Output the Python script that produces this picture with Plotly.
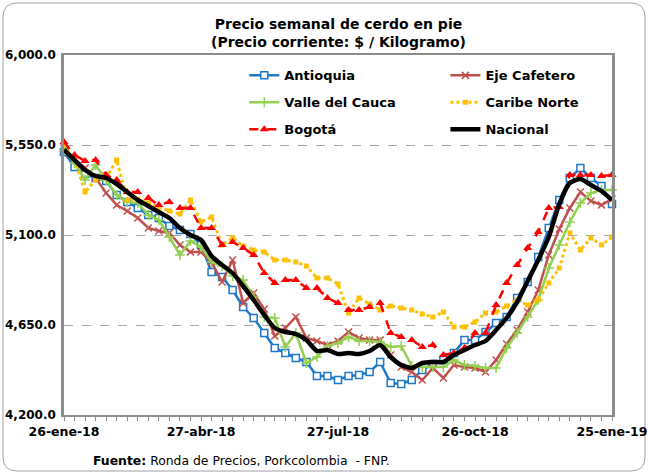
import pandas as pd
import plotly.graph_objects as go

weeks = pd.date_range("2018-01-26", periods=53, freq="7D")

antioquia = [5515, 5440, 5405, 5385, 5370, 5300, 5265, 5235, 5200, 5185, 5145, 5125, 5105, 5050,
             4915, 4890, 4825, 4740, 4685, 4610, 4535, 4510, 4485, 4465, 4395, 4395, 4375, 4395,
             4400, 4415, 4465, 4360, 4355, 4375, 4425, 4455, 4475, 4510, 4575, 4575, 4615, 4660,
             4690, 4785, 4865, 4990, 5135, 5275, 5385, 5435, 5385, 5345, 5255]
eje_cafetero = [5535, 5475, 5435, 5385, 5310, 5250, 5220, 5185, 5135, 5120, 5110, 5050, 5015, 5015,
                4965, 4865, 4975, 4760, 4810, 4730, 4595, 4635, 4690, 4585, 4570, 4550, 4570, 4615,
                4585, 4575, 4575, 4500, 4440, 4415, 4375, 4435, 4385, 4450, 4440, 4435, 4415, 4475,
                4555, 4625, 4715, 4825, 5000, 5130, 5235, 5315, 5270, 5250, 5280]
valle = [5525, 5460, 5375, 5450, 5375, 5300, 5265, 5260, 5200, 5175, 5090, 5000, 5070, 5040,
         4965, 4945, 4895, 4875, 4790, 4690, 4685, 4540, 4610, 4460, 4490, 4545, 4560, 4590,
         4570, 4570, 4565, 4540, 4545, 4445, 4440, 4440, 4440, 4475, 4450, 4445, 4435, 4435,
         4535, 4610, 4690, 4775, 4935, 5050, 5165, 5260, 5310, 5325, 5325]
caribe = [5550, 5475, 5315, 5375, 5385, 5475, 5275, 5280, 5260, 5240, 5220, 5205, 5275, 5165,
          5190, 5050, 5085, 5045, 5025, 5015, 4975, 4975, 4965, 4945, 4885, 4885, 4855, 4710,
          4785, 4755, 4725, 4745, 4735, 4725, 4705, 4690, 4715, 4640, 4640, 4665, 4710, 4715,
          4745, 4775, 4750, 4775, 4860, 4935, 5110, 5025, 5085, 5050, 5090]
bogota = [5565, 5500, 5470, 5475, 5400, 5375, 5315, 5315, 5285, 5250, 5265, 5235, 5235, 5135,
          5135, 5050, 5065, 5035, 5000, 4910, 4860, 4875, 4875, 4835, 4835, 4785, 4760, 4725,
          4725, 4740, 4760, 4610, 4590, 4575, 4540, 4550, 4500, 4510, 4535, 4610, 4610, 4750,
          4860, 4950, 5035, 5115, 5235, 5240, 5400, 5400, 5400, 5395, 5400]
nacional = [5525, 5475, 5425, 5395, 5385, 5355, 5315, 5275, 5245, 5215, 5185, 5135, 5100, 5075,
            4995, 4950, 4910, 4845, 4775, 4700, 4635, 4615, 4605, 4575, 4520, 4525, 4505, 4510,
            4505, 4520, 4550, 4490, 4450, 4435, 4460, 4465, 4465, 4500, 4525, 4550, 4570, 4625,
            4685, 4765, 4870, 4975, 5090, 5255, 5360, 5380, 5350, 5320, 5275]

tick_dates = ["2018-01-26", "2018-04-27", "2018-07-27", "2018-10-26", "2019-01-25"]
tick_labels = ["26-ene-18", "27-abr-18", "27-jul-18", "26-oct-18", "25-ene-19"]
y_ticks = [4200, 4650, 5100, 5550, 6000]

FONT = "DejaVu Sans"
fig = go.Figure()

def add(name, y, color, width, dash, symbol, msize, mcolor, mline, legend, group):
    fig.add_trace(go.Scatter(
        x=weeks, y=y, name=name, mode="lines+markers" if symbol else "lines",
        line=dict(color=color, width=width, dash=dash, shape="spline" if not symbol else "linear",
                  smoothing=0.6),
        marker=dict(symbol=symbol or "circle", size=msize, color=mcolor,
                    line=dict(color=color, width=mline)),
        cliponaxis=False, legend=legend, legendgroup=group))

add("Antioquia", antioquia, "#1F77C8", 2.5, "solid", "square", 7, "white", 1.5, "legend", "a")
add("Eje Cafetero", eje_cafetero, "#C0504D", 2.5, "solid", "x-thin-open", 7, "#C0504D", 1.5, "legend2", "b")
add("Valle del Cauca", valle, "#92D050", 2.5, "solid", "cross-thin-open", 7, "#92D050", 1.5, "legend", "c")
add("Caribe Norte", caribe, "#FFC000", 3, "dot", "square", 5, "#FFC000", 0, "legend2", "d")
add("Bogotá", bogota, "#FF0000", 2.5, "dash", "triangle-up", 8, "#FF0000", 0, "legend", "e")
add("Nacional", nacional, "#000000", 4.5, "solid", None, 1, "#000000", 0, "legend2", "f")

legfont = dict(family=FONT, size=13, color="black", weight="bold")
fig.update_layout(
    width=648, height=474,
    margin=dict(l=64, r=36, t=55, b=59, autoexpand=False),
    paper_bgcolor="white", plot_bgcolor="white",
    font=dict(family=FONT, color="black"),
    showlegend=True,
    legend=dict(x=0.329, y=0.985, xanchor="left", yanchor="top", font=legfont,
                bgcolor="rgba(255,255,255,0)", tracegroupgap=7, itemwidth=30),
    legend2=dict(x=0.696, y=0.985, xanchor="left", yanchor="top", font=legfont,
                 bgcolor="rgba(255,255,255,0)", tracegroupgap=7, itemwidth=30),
    xaxis=dict(range=["2018-01-26", "2019-01-25"], tickvals=tick_dates, ticktext=tick_labels,
               tickfont=dict(family=FONT, size=12.5, color="black", weight="bold"),
               ticklabeloverflow="allow", automargin=False,
               showgrid=False, showline=True, linecolor="#8C8C8C", linewidth=1.5, mirror=True,
               ticks="outside", ticklen=4, tickcolor="#8C8C8C",
               minor=dict(dtick=7 * 86400000, tick0="2018-01-26", ticks="outside", ticklen=4,
                          tickcolor="#8C8C8C", showgrid=False),
               zeroline=False),
    yaxis=dict(range=[4200, 6000], tickvals=y_ticks, tickformat=",.1f",
               tickfont=dict(family=FONT, size=12, color="black", weight="bold"),
               ticklabelstandoff=3, ticklabeloverflow="allow", automargin=False,
               showgrid=True, gridcolor="#A6A6A6", griddash="dash", gridwidth=1,
               showline=True, linecolor="#8C8C8C", linewidth=2.5, mirror=True,
               ticks="", zeroline=False),
)

fig.add_annotation(text="<b>Precio semanal de cerdo en pie<br>(Precio corriente: $ / Kilogramo)</b>",
                   xref="paper", yref="paper", x=0.5, y=1.0, yanchor="bottom", yshift=3,
                   showarrow=False, font=dict(family=FONT, size=14, color="black"))
fig.add_annotation(text="<b>Fuente:</b> Ronda de Precios, Porkcolombia  - FNP.",
                   xref="paper", yref="paper", x=(91 - 64) / 548, y=(415 - 460) / 360,
                   xanchor="left", yanchor="middle", showarrow=False,
                   font=dict(family=FONT, size=12.4, color="black"))

# rounded outer frame (paper coords relative to plot area)
def px(x):
    return (x - 64) / 548
def py(y):
    return (415 - y) / 360
x0, x1, y0, y1, r = 3, 645, 3, 471, 14
path = (f"M {px(x0 + r)},{py(y0)} L {px(x1 - r)},{py(y0)} Q {px(x1)},{py(y0)} {px(x1)},{py(y0 + r)} "
        f"L {px(x1)},{py(y1 - r)} Q {px(x1)},{py(y1)} {px(x1 - r)},{py(y1)} "
        f"L {px(x0 + r)},{py(y1)} Q {px(x0)},{py(y1)} {px(x0)},{py(y1 - r)} "
        f"L {px(x0)},{py(y0 + r)} Q {px(x0)},{py(y0)} {px(x0 + r)},{py(y0)} Z")
fig.add_shape(type="path", path=path, xref="paper", yref="paper",
              line=dict(color="#A0A0A0", width=1), layer="below")

fig.write_html("out.html", config={"displayModeBar": False, "responsive": False},
               post_script="document.body.style.margin='0'; document.body.style.overflow='hidden';")
